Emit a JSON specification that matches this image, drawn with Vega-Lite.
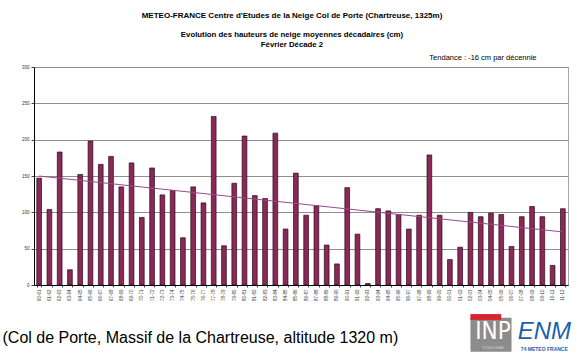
{
  "$schema": "https://vega.github.io/schema/vega-lite/v6.json",
  "width": 534,
  "height": 218,
  "autosize": {"type": "none"},
  "padding": {"left": 34, "top": 67, "right": 9, "bottom": 75},
  "background": "white",
  "config": {
    "font": "Liberation Sans",
    "view": {"stroke": "#a8a8a8", "strokeWidth": 1},
    "axisY": {
      "title": null,
      "values": [0, 50, 100, 150, 200, 250, 300],
      "labelOverlap": false,
      "labelFontSize": 4.5,
      "labelColor": "#333",
      "labelPadding": 2,
      "tickSize": 3,
      "tickColor": "#444",
      "domainColor": "black",
      "domainWidth": 1,
      "grid": true,
      "gridColor": "#8f8f8f",
      "gridWidth": 1,
      "gridOpacity": 1
    },
    "axisX": {
      "labelAngle": -90,
      "labelFontSize": 4.5,
      "labelColor": "#333",
      "labelPadding": 2,
      "tickBand": "extent",
      "tickSize": 2,
      "tickColor": "#444",
      "domainColor": "black",
      "domainWidth": 1,
      "grid": false,
      "titleFont": "Liberation Sans",
      "titleFontSize": 16,
      "titleFontWeight": "normal",
      "titleColor": "black",
      "titleAnchor": "start",
      "titleAlign": "left",
      "titleBaseline": "alphabetic",
      "titleX": -32,
      "titleY": 57
    }
  },
  "title": {
    "text": "METEO-FRANCE  Centre d'Etudes de la Neige   Col de Porte  (Chartreuse, 1325m)",
    "subtitle": ["Evolution des hauteurs de neige moyennes décadaires (cm)", "Février  Décade 2"],
    "font": "Liberation Sans",
    "fontSize": 8,
    "fontWeight": "bold",
    "color": "black",
    "subtitleFont": "Liberation Sans",
    "subtitleFontSize": 7.8,
    "subtitleFontWeight": "bold",
    "subtitleColor": "black",
    "subtitlePadding": 11,
    "subtitleLineHeight": 10,
    "anchor": "middle",
    "dx": -9,
    "offset": 5
  },
  "datasets": {
    "snow": [
      {"saison": "60-61", "hauteur": 147}, {"saison": "61-62", "hauteur": 104},
      {"saison": "62-63", "hauteur": 183}, {"saison": "63-64", "hauteur": 21},
      {"saison": "64-65", "hauteur": 152}, {"saison": "65-66", "hauteur": 198},
      {"saison": "66-67", "hauteur": 166}, {"saison": "67-68", "hauteur": 177},
      {"saison": "68-69", "hauteur": 135}, {"saison": "69-70", "hauteur": 168},
      {"saison": "70-71", "hauteur": 93}, {"saison": "71-72", "hauteur": 161},
      {"saison": "72-73", "hauteur": 124}, {"saison": "73-74", "hauteur": 130},
      {"saison": "74-75", "hauteur": 65}, {"saison": "75-76", "hauteur": 135},
      {"saison": "76-77", "hauteur": 113}, {"saison": "77-78", "hauteur": 232},
      {"saison": "78-79", "hauteur": 54}, {"saison": "79-80", "hauteur": 140},
      {"saison": "80-81", "hauteur": 205}, {"saison": "81-82", "hauteur": 123},
      {"saison": "82-83", "hauteur": 119}, {"saison": "83-84", "hauteur": 209},
      {"saison": "84-85", "hauteur": 77}, {"saison": "85-86", "hauteur": 154},
      {"saison": "86-87", "hauteur": 96}, {"saison": "87-88", "hauteur": 109},
      {"saison": "88-89", "hauteur": 55}, {"saison": "89-90", "hauteur": 29},
      {"saison": "90-91", "hauteur": 134}, {"saison": "91-92", "hauteur": 70},
      {"saison": "92-93", "hauteur": 2}, {"saison": "93-94", "hauteur": 105},
      {"saison": "94-95", "hauteur": 102}, {"saison": "95-96", "hauteur": 97},
      {"saison": "96-97", "hauteur": 77}, {"saison": "97-98", "hauteur": 96},
      {"saison": "98-99", "hauteur": 179}, {"saison": "99-00", "hauteur": 96},
      {"saison": "00-01", "hauteur": 35}, {"saison": "01-02", "hauteur": 52},
      {"saison": "02-03", "hauteur": 100}, {"saison": "03-04", "hauteur": 94},
      {"saison": "04-05", "hauteur": 99}, {"saison": "05-06", "hauteur": 97},
      {"saison": "06-07", "hauteur": 53}, {"saison": "07-08", "hauteur": 94},
      {"saison": "08-09", "hauteur": 108}, {"saison": "09-10", "hauteur": 94},
      {"saison": "10-11", "hauteur": 27}, {"saison": "11-12", "hauteur": 105}
    ],
    "trend": [
      {"saison": "60-61", "tendance": 150},
      {"saison": "11-12", "tendance": 73}
    ],
    "note": [
      {"texte": "Tendance : -16 cm par décennie"}
    ],
    "logo": [
      {"inp": "INP", "enm": "ENM", "sous": "TOULOUSE", "mf": "74 METEO FRANCE"}
    ]
  },
  "layer": [
    {
      "data": {"name": "snow"},
      "mark": {"type": "bar", "fill": "#8a2858", "stroke": "#2a0a1a", "strokeWidth": 0.7},
      "encoding": {
        "x": {
          "field": "saison", "type": "ordinal", "sort": null,
          "scale": {"paddingInner": 0.54, "paddingOuter": 0.27},
          "title": "(Col de Porte, Massif de la Chartreuse, altitude 1320 m)"
        },
        "y": {
          "field": "hauteur", "type": "quantitative",
          "scale": {"domain": [0, 300], "nice": false},
          "title": null
        }
      }
    },
    {
      "data": {"name": "trend"},
      "mark": {"type": "line", "color": "#9b4a8a", "strokeWidth": 1},
      "encoding": {
        "x": {"field": "saison", "type": "ordinal", "sort": null, "title": "(Col de Porte, Massif de la Chartreuse, altitude 1320 m)"},
        "y": {"field": "tendance", "type": "quantitative", "title": null}
      }
    },
    {
      "data": {"name": "note"},
      "mark": {"type": "text", "align": "left", "baseline": "middle", "fontSize": 7.5, "font": "Liberation Sans", "color": "black", "clip": false},
      "encoding": {
        "x": {"datum": "98-99", "title": "(Col de Porte, Massif de la Chartreuse, altitude 1320 m)"},
        "y": {"datum": 313, "title": null},
        "text": {"field": "texte"}
      }
    },
    {
      "data": {"name": "logo"},
      "mark": {"type": "rect", "fill": "#8c8c8c", "clip": false},
      "encoding": {
        "x": {"datum": "02-03", "title": "(Col de Porte, Massif de la Chartreuse, altitude 1320 m)"},
        "x2": {"datum": "06-07"},
        "y": {"datum": -45, "title": null},
        "y2": {"datum": -92}
      }
    },
    {
      "data": {"name": "logo"},
      "mark": {"type": "rect", "fill": "#d8242c", "clip": false},
      "encoding": {
        "x": {"datum": "02-03", "title": "(Col de Porte, Massif de la Chartreuse, altitude 1320 m)"},
        "x2": {"datum": "05-06"},
        "y": {"datum": -40, "title": null},
        "y2": {"datum": -48}
      }
    },
    {
      "data": {"name": "logo"},
      "mark": {"type": "text", "align": "center", "baseline": "middle", "fontSize": 24, "font": "DejaVu Sans Condensed, Liberation Sans, sans-serif", "color": "white", "clip": false, "dx": 2},
      "encoding": {
        "x": {"datum": "04-05", "title": "(Col de Porte, Massif de la Chartreuse, altitude 1320 m)"},
        "y": {"datum": -64, "title": null},
        "text": {"field": "inp"}
      }
    },
    {
      "data": {"name": "logo"},
      "mark": {"type": "text", "align": "center", "baseline": "middle", "fontSize": 4, "font": "Liberation Sans", "color": "#dddddd", "clip": false, "dx": 2},
      "encoding": {
        "x": {"datum": "04-05", "title": "(Col de Porte, Massif de la Chartreuse, altitude 1320 m)"},
        "y": {"datum": -87, "title": null},
        "text": {"field": "sous"}
      }
    },
    {
      "data": {"name": "logo"},
      "mark": {"type": "text", "align": "center", "baseline": "middle", "fontSize": 24, "font": "Liberation Sans", "fontStyle": "italic", "color": "#1d5fae", "clip": false, "dx": 2},
      "encoding": {
        "x": {"datum": "09-10", "title": "(Col de Porte, Massif de la Chartreuse, altitude 1320 m)"},
        "y": {"datum": -65, "title": null},
        "text": {"field": "enm"}
      }
    },
    {
      "data": {"name": "logo"},
      "mark": {"type": "text", "align": "center", "baseline": "middle", "fontSize": 5, "fontWeight": "bold", "font": "Liberation Sans", "color": "#1d5fae", "clip": false, "dx": 2},
      "encoding": {
        "x": {"datum": "09-10", "title": "(Col de Porte, Massif de la Chartreuse, altitude 1320 m)"},
        "y": {"datum": -88, "title": null},
        "text": {"field": "mf"}
      }
    }
  ]
}
